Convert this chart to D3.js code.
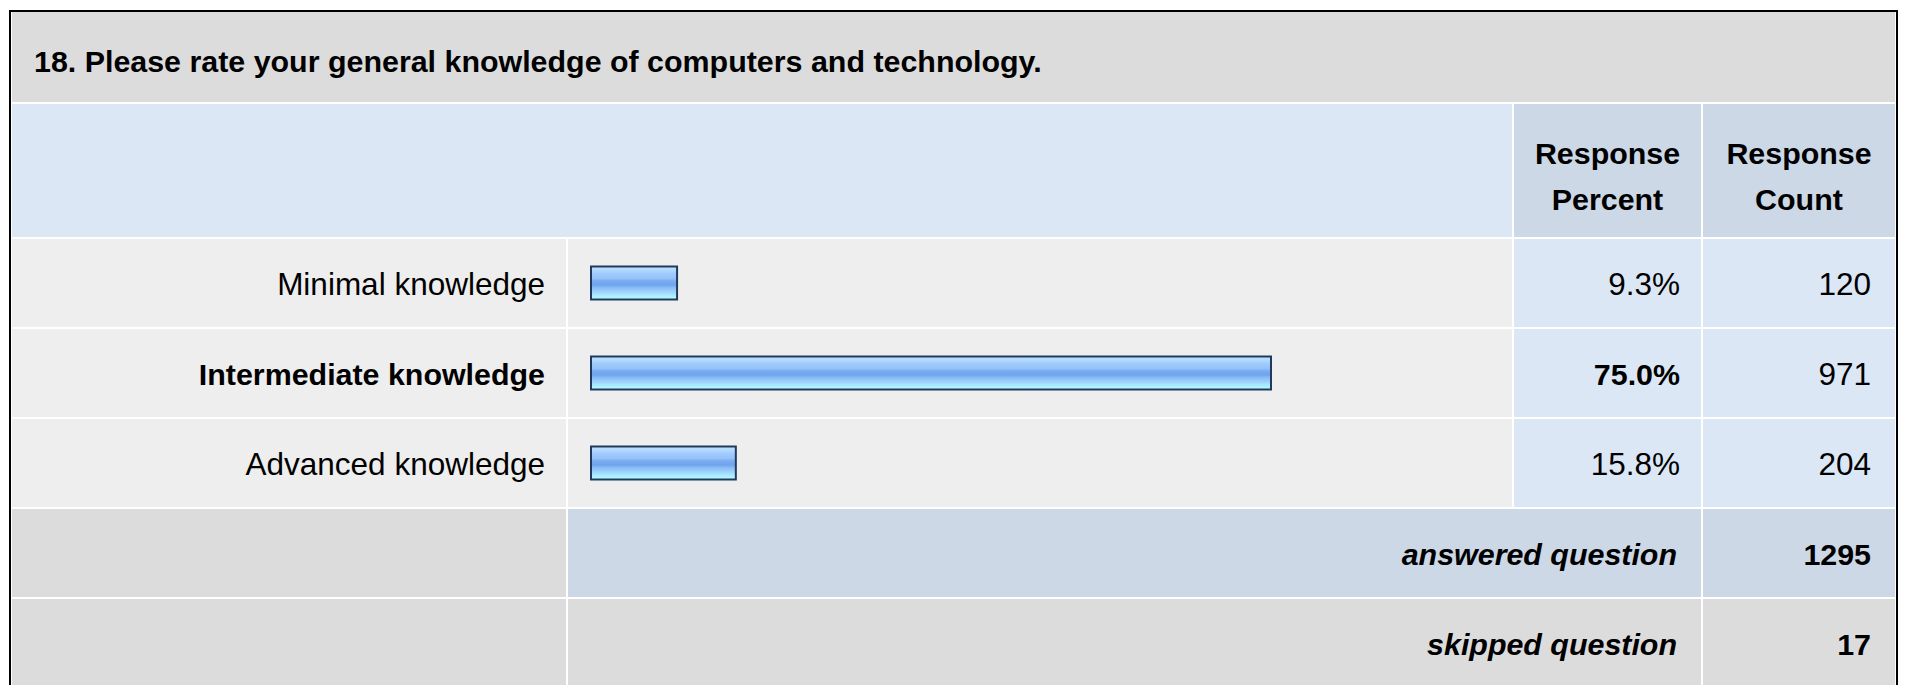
<!DOCTYPE html>
<html>
<head>
<meta charset="utf-8">
<script src="https://cdn.jsdelivr.net/npm/d3@7"></script>
<style>
  html, body { margin: 0; padding: 0; background: #ffffff; }
  svg { display: block; }
  text { font-family: "Liberation Sans", Arial, Helvetica, sans-serif; fill: #000; }
</style>
</head>
<body>
<svg id="chart" width="1909" height="685"></svg>
<script>
// ---- data ----
const title = "18. Please rate your general knowledge of computers and technology.";
const categories = ["Minimal knowledge", "Intermediate knowledge", "Advanced knowledge"];
const percents = [9.3, 75.0, 15.8];
const counts = [120, 971, 204];
const headerPercent = ["Response", "Percent"];
const headerCount = ["Response", "Count"];
const answeredLabel = "answered question";
const answeredCount = 1295;
const skippedLabel = "skipped question";
const skippedCount = 17;
const highlighted = "Intermediate knowledge";

// ---- layout ----
const W = 1909, H = 685;
const FSB = 30.4;   // bold text
const FSR = 31.5;   // regular text
const svg = d3.select("#chart");

const colLabel = [12, 566], colBar = [568, 1512], colPct = [1514, 1701], colCnt = [1703, 1895];
const titleRow = [12, 102], headerRow = [104, 237], ansRow = [509, 597], skipRow = [599, 690];

const yBand = d3.scaleBand().domain(categories).range([239, 507]).paddingInner(2 / 90).paddingOuter(0);
const x = d3.scaleLinear().domain([0, 100]).range([0, 904]);

// gradient
const defs = svg.append("defs");
const grad = defs.append("linearGradient").attr("id", "barGrad")
  .attr("x1", 0).attr("y1", 0).attr("x2", 0).attr("y2", 1);
[[0, "#c2e1ff"], [0.12, "#b0d8ff"], [0.22, "#9fcbfd"], [0.36, "#96c2f9"], [0.44, "#78abf0"],
 [0.56, "#6fa4ee"], [0.64, "#89bbf6"], [0.76, "#9dd0fb"], [0.86, "#a9e8ff"], [1, "#b6ffff"]]
  .forEach(([o, c]) => grad.append("stop").attr("offset", o).attr("stop-color", c));

function cell(x0, x1, y0, y1, fill) {
  svg.append("rect").attr("x", x0).attr("y", y0).attr("width", x1 - x0).attr("height", y1 - y0).attr("fill", fill);
}

// outer border
svg.append("rect").attr("x", 10).attr("y", 11).attr("width", 1887).attr("height", H + 20)
  .attr("fill", "#ffffff").attr("stroke", "#000").attr("stroke-width", 2);

// title row
cell(colLabel[0], colCnt[1], titleRow[0], titleRow[1], "#dcdcdc");
svg.append("text").attr("x", 34).attr("y", 72).attr("font-size", FSB).attr("font-weight", "bold").text(title);

// header row
cell(colLabel[0], colBar[1], headerRow[0], headerRow[1], "#dce7f5");
cell(colPct[0], colPct[1], headerRow[0], headerRow[1], "#ccd8e6");
cell(colCnt[0], colCnt[1], headerRow[0], headerRow[1], "#ccd8e6");
[[colPct, headerPercent], [colCnt, headerCount]].forEach(([c, lines]) => {
  lines.forEach((t, i) => {
    svg.append("text").attr("x", (c[0] + c[1]) / 2).attr("y", headerRow[0] + 60 + i * 46)
      .attr("text-anchor", "middle").attr("font-size", FSB).attr("font-weight", "bold").text(t);
  });
});

// data rows
const rows = svg.append("g").selectAll("g").data(categories).join("g");
rows.each(function (d, i) {
  const g = d3.select(this);
  const y0 = yBand(d), y1 = y0 + yBand.bandwidth(), cy = (y0 + y1) / 2;
  const isBold = d === highlighted;
  const bold = isBold ? "bold" : "normal";
  const fs = isBold ? FSB : FSR;
  g.append("rect").attr("x", colLabel[0]).attr("y", y0).attr("width", colLabel[1] - colLabel[0]).attr("height", y1 - y0).attr("fill", "#eeeeee");
  g.append("rect").attr("x", colBar[0]).attr("y", y0).attr("width", colBar[1] - colBar[0]).attr("height", y1 - y0).attr("fill", "#eeeeee");
  g.append("rect").attr("x", colPct[0]).attr("y", y0).attr("width", colPct[1] - colPct[0]).attr("height", y1 - y0).attr("fill", "#dce7f5");
  g.append("rect").attr("x", colCnt[0]).attr("y", y0).attr("width", colCnt[1] - colCnt[0]).attr("height", y1 - y0).attr("fill", "#dce7f5");
  g.append("text").attr("x", 545).attr("y", cy + 12).attr("text-anchor", "end")
    .attr("font-size", fs).attr("font-weight", bold).text(d);
  g.append("rect").attr("x", 591).attr("y", cy - 16.5).attr("width", x(percents[i]) + 2).attr("height", 33)
    .attr("fill", "url(#barGrad)").attr("stroke", "#1f3a5e").attr("stroke-width", 2);
  g.append("text").attr("x", 1680).attr("y", cy + 12).attr("text-anchor", "end")
    .attr("font-size", fs).attr("font-weight", bold).text(percents[i].toFixed(1) + "%");
  g.append("text").attr("x", 1871).attr("y", cy + 12).attr("text-anchor", "end")
    .attr("font-size", FSR).text(counts[i]);
});

// answered row
cell(colLabel[0], colLabel[1], ansRow[0], ansRow[1], "#dcdcdc");
cell(colBar[0], colPct[1], ansRow[0], ansRow[1], "#ccd8e6");
cell(colCnt[0], colCnt[1], ansRow[0], ansRow[1], "#ccd8e6");
svg.append("text").attr("x", 1677).attr("y", (ansRow[0] + ansRow[1]) / 2 + 12).attr("text-anchor", "end")
  .attr("font-size", FSB).attr("font-weight", "bold").attr("font-style", "italic").text(answeredLabel);
svg.append("text").attr("x", 1871).attr("y", (ansRow[0] + ansRow[1]) / 2 + 12).attr("text-anchor", "end")
  .attr("font-size", FSB).attr("font-weight", "bold").text(answeredCount);

// skipped row
cell(colLabel[0], colLabel[1], skipRow[0], skipRow[1], "#dcdcdc");
cell(colBar[0], colPct[1], skipRow[0], skipRow[1], "#dcdcdc");
cell(colCnt[0], colCnt[1], skipRow[0], skipRow[1], "#dcdcdc");
svg.append("text").attr("x", 1677).attr("y", 599 + 44 + 12).attr("text-anchor", "end")
  .attr("font-size", FSB).attr("font-weight", "bold").attr("font-style", "italic").text(skippedLabel);
svg.append("text").attr("x", 1871).attr("y", 599 + 44 + 12).attr("text-anchor", "end")
  .attr("font-size", FSB).attr("font-weight", "bold").text(skippedCount);
</script>
</body>
</html>
